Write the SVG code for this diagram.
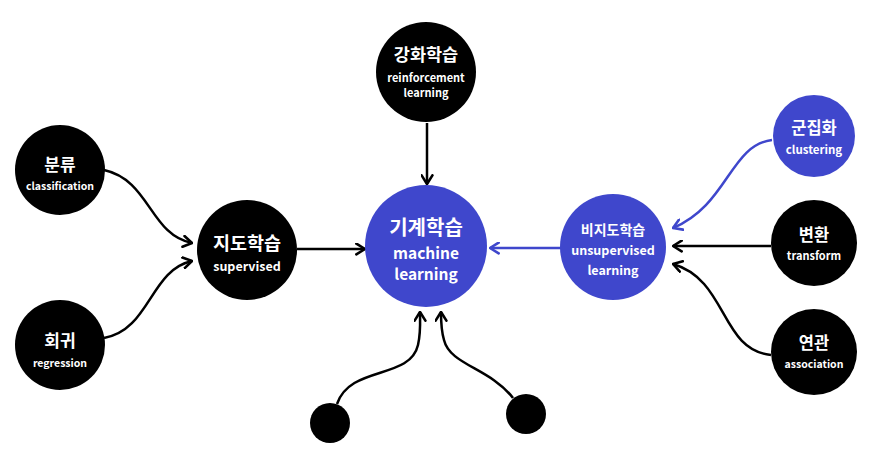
<svg xmlns="http://www.w3.org/2000/svg" width="877" height="452" viewBox="0 0 877 452">
  <defs>
    <marker id="arrow-black" viewBox="0 0 10 12" refX="9" refY="6" markerWidth="11" markerHeight="13" markerUnits="userSpaceOnUse" orient="auto">
      <path d="M1,1 L9,6 L1,11" fill="none" stroke="#000" stroke-width="2.4" stroke-linecap="round" stroke-linejoin="round"/>
    </marker>
    <marker id="arrow-blue" viewBox="0 0 10 12" refX="9" refY="6" markerWidth="11" markerHeight="13" markerUnits="userSpaceOnUse" orient="auto">
      <path d="M1,1 L9,6 L1,11" fill="none" stroke="#3F47CC" stroke-width="2.4" stroke-linecap="round" stroke-linejoin="round"/>
    </marker>
    <style>
      .dark { fill: #000; }
      .blue { fill: #3F47CC; }
      text { fill: #fff; font-family: "Noto Sans CJK KR", "Noto Sans", sans-serif; font-weight: bold; text-anchor: middle; dominant-baseline: central; }
      .edge { fill: none; stroke: #000; stroke-width: 2.5; marker-end: url(#arrow-black); }
      .edge-blue { fill: none; stroke: #3F47CC; stroke-width: 2.5; marker-end: url(#arrow-blue); }
    </style>
  </defs>

  <!-- arrows between the topics -->
  <g id="connectors">
    <path class="edge" d="M104,170 C150,180 150,235 192,243"/>
    <path class="edge" d="M104,338 C150,330 150,270 192,261"/>
    <path class="edge" d="M297,249 L365,249"/>
    <path class="edge" d="M427,123 L427,184"/>
    <path class="edge-blue" d="M561,248 L490,248"/>
    <path class="edge-blue" d="M772,140 C730,145 728,205 673,228"/>
    <path class="edge" d="M771,246 L673,246"/>
    <path class="edge" d="M771,355 C720,350 728,280 673,264"/>
    <path class="edge" d="M337,404 C350,365 410,380 418,345 C421,332 420,320 420,312"/>
    <path class="edge" d="M513,398 C490,368 450,365 444,340 C441,330 441,320 441,312"/>
  </g>

  <g id="machine-learning">
    <circle class="blue" cx="426" cy="246" r="61"/>
    <text x="426" y="226" font-size="20">기계학습</text>
    <text x="426" y="252" font-size="15.5">machine</text>
    <text x="426" y="273" font-size="15.5">learning</text>
  </g>

  <g id="supervised">
    <circle class="dark" cx="247" cy="250" r="50"/>
    <text x="247" y="242" font-size="18.5">지도학습</text>
    <text x="247" y="265" font-size="12.5">supervised</text>
  </g>

  <g id="classification">
    <circle class="dark" cx="60" cy="170" r="45"/>
    <text x="60" y="163" font-size="17">분류</text>
    <text x="60" y="185" font-size="10.5">classification</text>
  </g>

  <g id="regression">
    <circle class="dark" cx="60" cy="345" r="45"/>
    <text x="60" y="339" font-size="17">회귀</text>
    <text x="60" y="362" font-size="10.5">regression</text>
  </g>

  <g id="reinforcement">
    <circle class="dark" cx="426" cy="72" r="50"/>
    <text x="426" y="53" font-size="17.5">강화학습</text>
    <text x="426" y="77" font-size="11">reinforcement</text>
    <text x="426" y="92" font-size="11">learning</text>
  </g>

  <g id="unsupervised">
    <circle class="blue" cx="613" cy="247" r="53"/>
    <text x="613" y="229" font-size="14">비지도학습</text>
    <text x="613" y="249" font-size="12.5">unsupervised</text>
    <text x="613" y="269" font-size="12.5">learning</text>
  </g>

  <g id="clustering">
    <circle class="blue" cx="814" cy="136" r="41"/>
    <text x="814" y="127" font-size="16.5">군집화</text>
    <text x="814" y="149" font-size="11.5">clustering</text>
  </g>

  <g id="transform">
    <circle class="dark" cx="814" cy="243" r="43"/>
    <text x="814" y="234" font-size="16.5">변환</text>
    <text x="814" y="255" font-size="11">transform</text>
  </g>

  <g id="association">
    <circle class="dark" cx="814" cy="352" r="43"/>
    <text x="814" y="342" font-size="16.5">연관</text>
    <text x="814" y="363" font-size="10.5">association</text>
  </g>

  <g id="extra-left">
    <circle class="dark" cx="330" cy="423" r="20"/>
  </g>
  <g id="extra-right">
    <circle class="dark" cx="526" cy="414" r="20"/>
  </g>
</svg>
